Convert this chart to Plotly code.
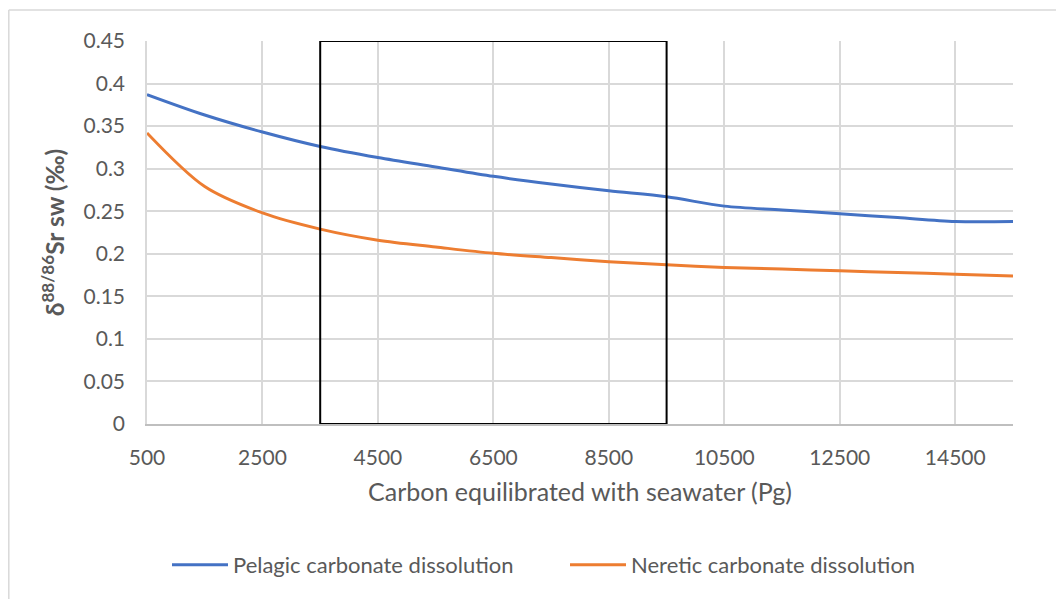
import plotly.graph_objects as go

# Data
carbon = [500, 1500, 2500, 3500, 4500, 5500, 6500, 7500, 8500, 9500,
          10500, 11500, 12500, 13500, 14500, 15500]
pelagic = [0.387, 0.363, 0.343, 0.326, 0.313, 0.302, 0.291, 0.282, 0.274, 0.267,
           0.256, 0.2515, 0.247, 0.2425, 0.238, 0.238]
neritic = [0.342, 0.279, 0.248, 0.229, 0.216, 0.208, 0.2005, 0.1955, 0.1907, 0.187,
           0.184, 0.182, 0.180, 0.178, 0.176, 0.174]
x_ticks = [500, 2500, 4500, 6500, 8500, 10500, 12500, 14500]
x_ticktext = ["500", "2500", "4500", "6500", "8500", "10500", "12500", "14500"]
y_ticks = [0, 0.05, 0.1, 0.15, 0.2, 0.25, 0.3, 0.35, 0.4, 0.45]
y_ticktext = ["0", "0.05", "0.1", "0.15", "0.2", "0.25", "0.3", "0.35", "0.4", "0.45"]
box_x = [3500, 9500]
box_y = [0, 0.45]

# page has 8px body margin: work in figure coords = screen - 8
OFF = 8
W, H = 1064 - OFF, 599 - OFF
L, R, T, B = 147 - OFF, 1064 - 1013, 41 - OFF, 599 - 424
pw, ph = W - L - R, H - T - B

def px_x(p):
    return (p - OFF - L) / pw

def px_y(p):
    return (H - B - (p - OFF)) / ph

FONT = "Lato"
GREY = "#595959"

fig = go.Figure()
fig.add_trace(go.Scatter(x=carbon, y=pelagic, mode="lines", name="Pelagic carbonate dissolution",
                         line=dict(color="#4472C4", width=3, shape="spline", smoothing=0.9)))
fig.add_trace(go.Scatter(x=carbon, y=neritic, mode="lines", name="Neretic carbonate dissolution",
                         line=dict(color="#ED7D31", width=3, shape="spline", smoothing=0.9)))

fig.add_shape(type="rect", xref="x", yref="y", x0=box_x[0], x1=box_x[1], y0=box_y[0], y1=box_y[1],
              line=dict(color="black", width=2), fillcolor="rgba(0,0,0,0)", layer="above")

# chart-area border (top and left visible)
fig.add_shape(type="line", xref="paper", yref="paper", x0=px_x(8.8), x1=px_x(1080), y0=px_y(10), y1=px_y(10),
              line=dict(color="#d9d9d9", width=1.5))
fig.add_shape(type="line", xref="paper", yref="paper", x0=px_x(8.8), x1=px_x(8.8), y0=px_y(10), y1=px_y(620),
              line=dict(color="#d9d9d9", width=1.5))

fig.update_layout(
    width=W, height=H,
    margin=dict(l=L, r=R, t=T, b=B, autoexpand=False),
    paper_bgcolor="white", plot_bgcolor="white",
    font=dict(family=FONT, size=21, color=GREY),
    showlegend=True,
    legend=dict(orientation="h", x=px_x(167), xanchor="left", y=px_y(565), yanchor="middle",
                font=dict(family=FONT, size=22, color=GREY), itemwidth=56, traceorder="normal",
                entrywidth=327, entrywidthmode="pixels"),
    xaxis=dict(range=[500, 15500], tickvals=x_ticks, ticktext=x_ticktext, showgrid=True,
               gridcolor="#d9d9d9", gridwidth=1.5,
               showline=True, linecolor="#bfbfbf", linewidth=1.5, zeroline=False,
               ticks="", ticklabelstandoff=14, tickfont=dict(size=21),
               title=dict(text="Carbon equilibrated with seawater (Pg)", standoff=16,
                          font=dict(family=FONT, size=25, color=GREY))),
    yaxis=dict(range=[0, 0.45], tickvals=y_ticks, ticktext=y_ticktext, showgrid=True, gridcolor="#d9d9d9",
               gridwidth=1.5, showline=True, linecolor="#d9d9d9", linewidth=1.5, zeroline=False,
               ticks="", ticklabelstandoff=16, tickfont=dict(size=21),
               title=dict(text="<b>δ<sup>88/86</sup>Sr sw (‰)</b>", standoff=12,
                          font=dict(family=FONT, size=24.5, color=GREY))),
)

fig.write_html("out.html")
